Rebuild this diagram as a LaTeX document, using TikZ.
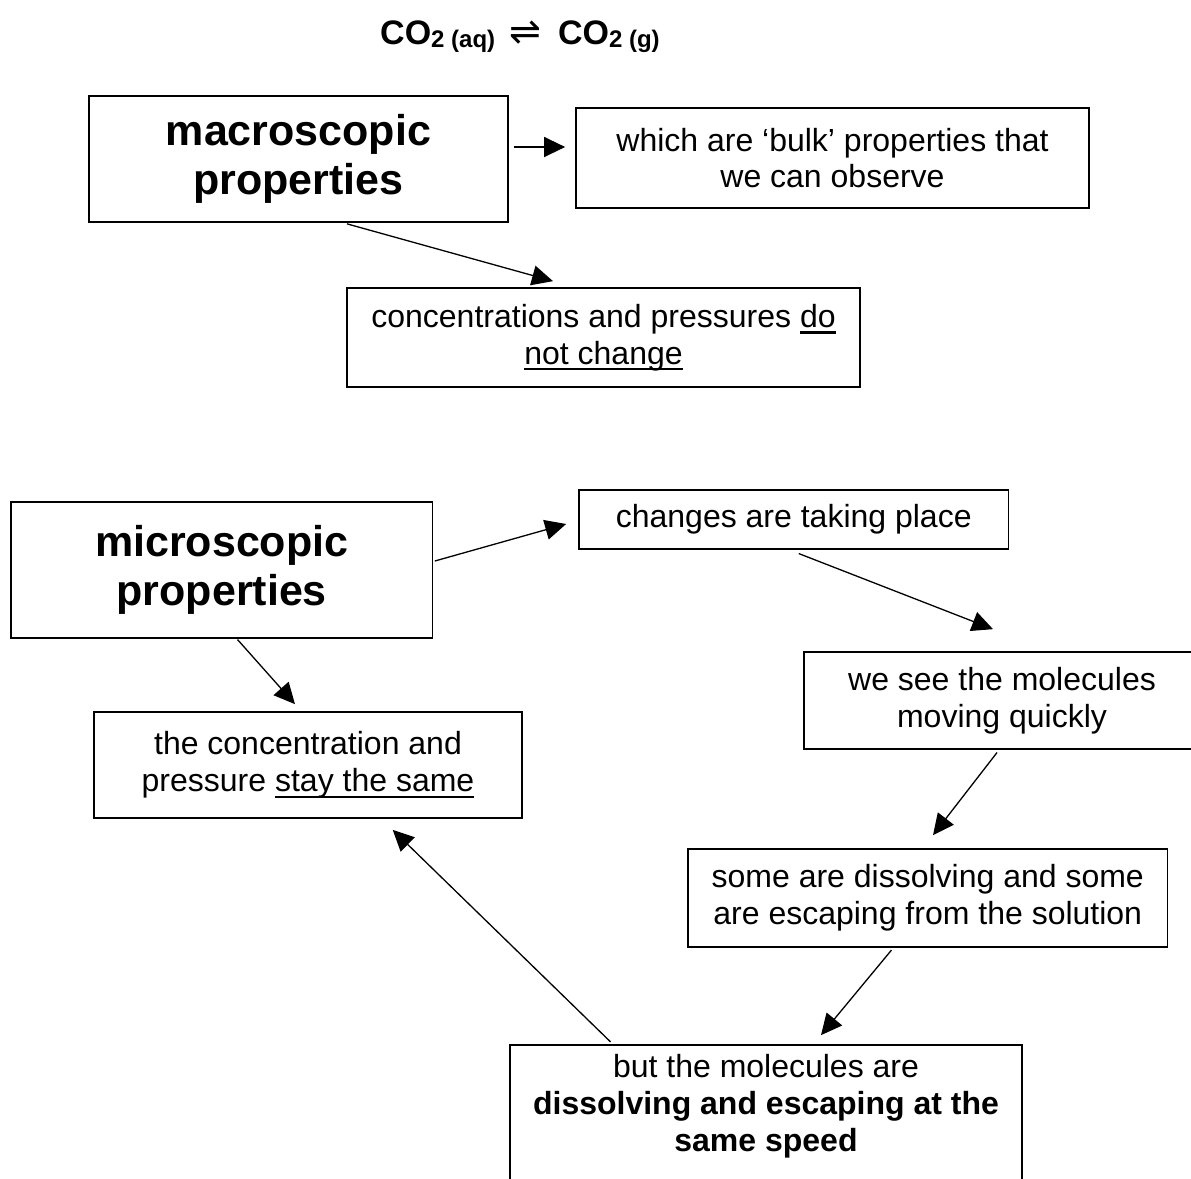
\documentclass[tikz,border=0pt]{standalone}
\usepackage{fontspec}
\setmainfont{Liberation Sans}
\newfontfamily{\harpfont}{DejaVu Sans}
\newcommand{\myul}[1]{\begingroup\setbox0\hbox{#1}\rlap{\rule[-6.2pt]{\wd0}{2.2pt}}\box0\endgroup}
\usetikzlibrary{arrows.meta,calc}
\begin{document}
\begin{tikzpicture}[x=1pt,y=-1pt,
  box/.style={draw, line width=1.7pt, rectangle, align=center, inner sep=0pt,
    font=\fontsize{32}{36.8}\selectfont},
  bigbox/.style={box, font=\fontsize{43}{49.5}\selectfont\bfseries},
  plain/.style={align=center, inner sep=0pt, font=\fontsize{32}{36.8}\selectfont},
  arr/.style={line width=1.3pt, -{Triangle[length=21pt,width=20pt]}}]
\useasboundingbox (0,0) rectangle (1191,1178);
\clip (0,0) rectangle (1191,1178);
\fill[white] (0,0) rectangle (1191,1178);

% title
\node[anchor=base west, inner sep=0pt, font=\fontsize{34}{40}\selectfont\bfseries] (title) at (380,44)
  {CO\raisebox{-3.5pt}{\fontsize{24}{28}\selectfont 2 (aq)}\hspace{14pt}{\harpfont\mdseries\fontsize{38}{40}\selectfont ⇌}\hspace{17pt}CO\raisebox{-3.5pt}{\fontsize{24}{28}\selectfont 2 (g)}};

% boxes
\node[bigbox, minimum width=419pt, minimum height=126pt] (macro) at (298.5,159) {macroscopic\\properties};
\node[box, minimum width=513pt, minimum height=100pt] (bulk) at (832.5,158) {which are `bulk' properties that\\we can observe};
\node[box, minimum width=513pt, minimum height=99pt] (conc) at (603.5,337.5) {concentrations and pressures \myul{do}\\\myul{not change}};
\node[bigbox, minimum width=421.5pt, minimum height=136pt] (micro) at (221.75,570) {microscopic\\properties};
\node[box, minimum width=429.5pt, minimum height=59pt] (changes) at (793.75,519.5) {changes are taking place};
\node[box, minimum width=396pt, minimum height=97pt] (wesee) at (1002,700.5) {we see the molecules\\moving quickly};
\node[box, minimum width=428pt, minimum height=106pt] (same) at (308,765) {the concentration and\\pressure \myul{stay the same}};
\node[box, minimum width=479.5pt, minimum height=98pt] (some) at (927.75,898) {some are dissolving and some\\are escaping from the solution};
\node[box, minimum width=512pt, minimum height=200pt] (butbox) at (766,1145) {};
\node[plain] (but) at (766,1106) {but the molecules are\\\textbf{dissolving and escaping at the}\\\textbf{same speed}};

% connectors
\draw[arr] ($(macro.east)+(5,-12)$) -- ($(bulk.west)+(-10,-11)$);
\draw[arr] ($(macro.south)+(48.5,1)$) -- ($(conc.north)+(-50.5,-6)$);
\draw[arr] ($(micro.east)+(1.5,-9)$) -- ($(changes.west)+(-12,4.5)$);
\draw[arr] ($(changes.south)+(5,3.7)$) -- ($(wesee.north)+(-9,-22)$);
\draw[arr] ($(micro.south)+(15.75,0.7)$) -- ($(same.north)+(-13,-7)$);
\draw[arr] ($(wesee.south)+(-5,2.7)$) -- ($(some.north)+(5.25,-13)$);
\draw[arr] ($(some.south)+(-36.35,2.3)$) -- ($(butbox.north)+(55,-9)$);
\draw[arr] ($(butbox.north)+(-155.5,-2.3)$) -- ($(same.south)+(84.7,11)$);
\end{tikzpicture}
\end{document}
